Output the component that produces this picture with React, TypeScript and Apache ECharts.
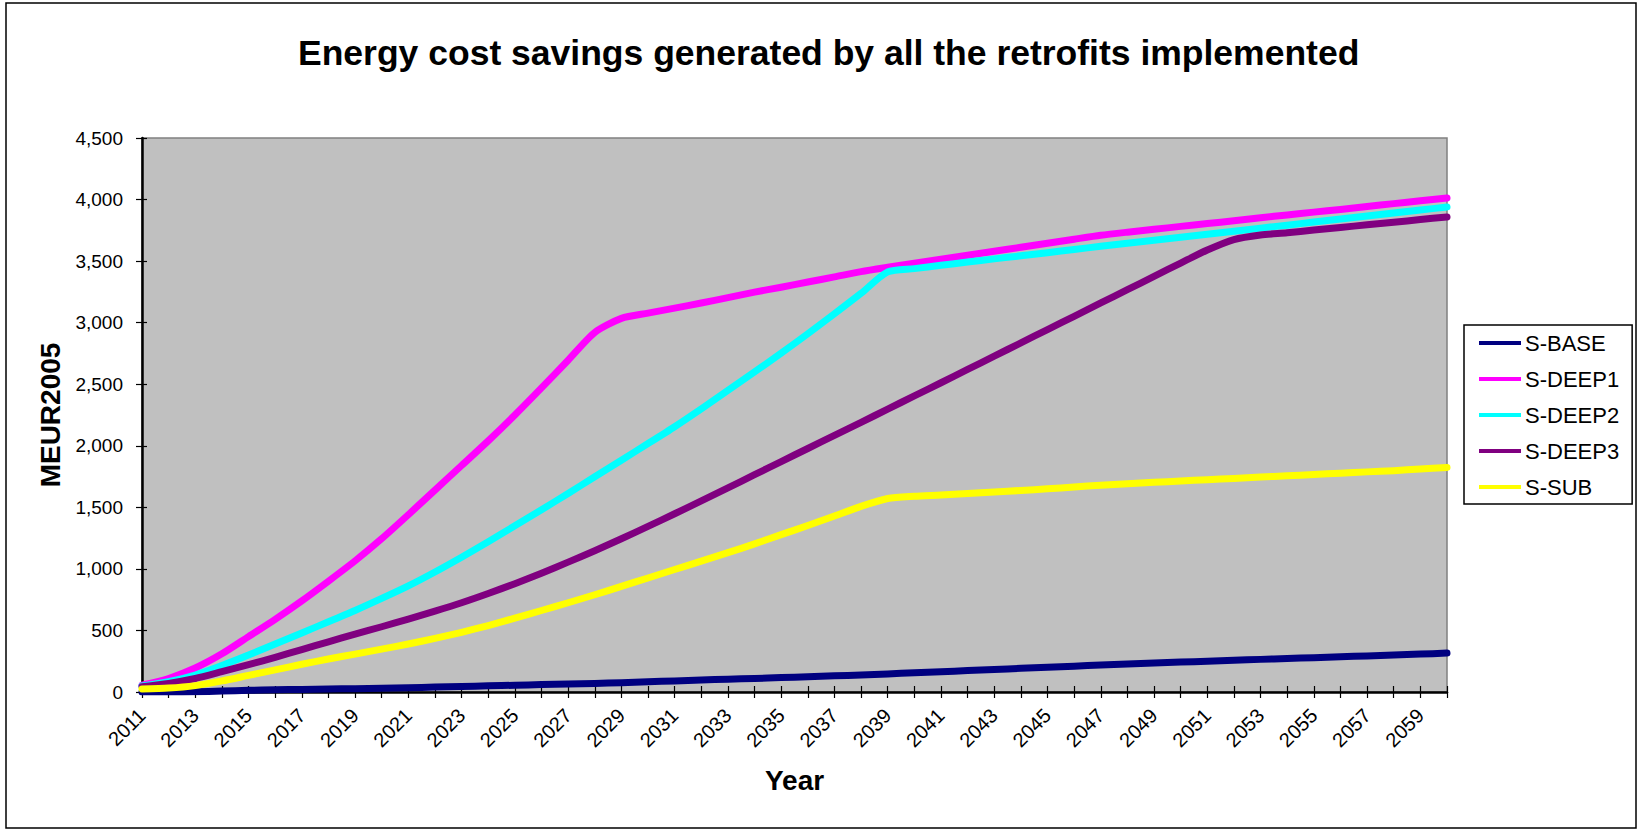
import React, { useEffect, useRef } from "react";
import * as echarts from "echarts";

const years = [
  "2011", "2012", "2013", "2014", "2015", "2016", "2017", "2018", "2019", "2020",
  "2021", "2022", "2023", "2024", "2025", "2026", "2027", "2028", "2029", "2030",
  "2031", "2032", "2033", "2034", "2035", "2036", "2037", "2038", "2039", "2040",
  "2041", "2042", "2043", "2044", "2045", "2046", "2047", "2048", "2049", "2050",
  "2051", "2052", "2053", "2054", "2055", "2056", "2057", "2058", "2059", "2060",
];

const seriesNames = ["S-BASE", "S-DEEP1", "S-DEEP2", "S-DEEP3", "S-SUB"];
const seriesColors = ["#000080", "#FF00FF", "#00FFFF", "#800080", "#FFFF00"];

const sBase = [
  0, 0, 2, 8, 14, 18, 21, 24, 27, 30,
  35, 40, 45, 50, 55, 60, 65, 70, 76, 83,
  90, 97, 104, 110, 117, 124, 131, 138, 147, 156,
  165, 174, 183, 192, 201, 210, 219, 227, 235, 243,
  250, 258, 265, 272, 279, 286, 293, 300, 308, 316,
];

const sDeep1 = [
  55, 110, 195, 310, 450, 590, 740, 900, 1065, 1245,
  1440, 1640, 1840, 2040, 2250, 2470, 2695, 2920, 3035, 3078,
  3118, 3160, 3203, 3248, 3288, 3330, 3372, 3415, 3450, 3483,
  3515, 3548, 3580, 3612, 3645, 3678, 3710, 3735, 3758, 3782,
  3805, 3828, 3852, 3875, 3898, 3920, 3944, 3967, 3990, 4013,
];

const sDeep2 = [
  49, 84, 138, 215, 300, 390, 480, 570, 662, 760,
  862, 975, 1095, 1220, 1350, 1480, 1613, 1748, 1883, 2018,
  2155, 2300, 2450, 2600, 2752, 2910, 3072, 3238, 3412, 3439,
  3466, 3492, 3518, 3543, 3568, 3595, 3620, 3645, 3670, 3694,
  3718, 3743, 3768, 3792, 3817, 3842, 3866, 3891, 3915, 3940,
];

const sDeep3 = [
  43, 70, 110, 165, 222, 282, 345, 408, 470, 530,
  592, 657, 725, 800, 880, 965, 1055, 1148, 1245, 1345,
  1448, 1552, 1658, 1765, 1872, 1978, 2085, 2190, 2298, 2405,
  2512, 2620, 2728, 2836, 2944, 3052, 3160, 3268, 3376, 3484,
  3590, 3675, 3712, 3730, 3752, 3773, 3795, 3815, 3838, 3859,
];

const sSub = [
  25, 32, 52, 90, 135, 180, 225, 268, 308, 348,
  390, 435, 485, 540, 600, 662, 725, 790, 858, 926,
  995, 1063, 1132, 1203, 1278, 1352, 1430, 1508, 1572, 1590,
  1600, 1612, 1625, 1637, 1650, 1665, 1680, 1692, 1703, 1714,
  1725, 1735, 1746, 1756, 1767, 1777, 1788, 1798, 1811, 1824,
];

const yTicks = { min: 0, max: 4500, interval: 500 };

export default function App() {
  const ref = useRef<HTMLDivElement>(null);

  useEffect(() => {
    if (!ref.current) return;
    const chart = echarts.init(ref.current, null, { renderer: "svg" });
    const font = "'Liberation Sans', Arial, sans-serif";
    const values = [sBase, sDeep1, sDeep2, sDeep3, sSub];
    const tickStyle = { color: "#000", width: 1.2 };

    chart.setOption({
      animation: false,
      backgroundColor: "#ffffff",
      textStyle: { fontFamily: font },
      title: {
        text: "Energy cost savings generated by all the retrofits implemented",
        left: 293,
        top: 30,
        textStyle: { fontFamily: font, fontSize: 35.5, fontWeight: "bold", color: "#000" },
      },
      grid: {
        left: 142,
        right: 195,
        top: 138,
        bottom: 141,
        show: true,
        backgroundColor: "#C0C0C0",
        borderColor: "#808080",
        borderWidth: 1.5,
      },
      legend: {
        orient: "vertical",
        left: 1464,
        top: 325,
        padding: [7, 13, 6, 15],
        backgroundColor: "#ffffff",
        borderColor: "#000",
        borderWidth: 1.5,
        borderRadius: 0,
        icon: "rect",
        itemWidth: 42,
        itemHeight: 4,
        itemGap: 14,
        data: seriesNames,
        textStyle: { fontFamily: font, fontSize: 22, color: "#000", lineHeight: 22, padding: [0, 0, 0, -1] },
      },
      xAxis: [
        {
          type: "category",
          data: years,
          boundaryGap: false,
          name: "Year",
          nameLocation: "middle",
          nameGap: 74,
          nameTextStyle: { fontFamily: font, fontSize: 28, fontWeight: "bold", color: "#000" },
          axisLine: { lineStyle: { color: "#000", width: 2.5 } },
          axisTick: { interval: 0, length: 6, lineStyle: tickStyle },
          axisLabel: { interval: 1, rotate: 45, fontSize: 20, color: "#000", fontFamily: font, margin: 20 },
          splitLine: { show: false },
        },
        {
          type: "category",
          data: years,
          boundaryGap: false,
          position: "bottom",
          axisLine: { show: false },
          axisTick: { inside: true, interval: 0, length: 6, lineStyle: tickStyle },
          axisLabel: { show: false },
          splitLine: { show: false },
        },
      ],
      yAxis: [
        {
          type: "value",
          min: yTicks.min,
          max: yTicks.max,
          interval: yTicks.interval,
          name: "MEUR2005",
          nameLocation: "middle",
          nameGap: 78,
          nameTextStyle: { fontFamily: font, fontSize: 28, fontWeight: "bold", color: "#000" },
          axisLine: { show: true, lineStyle: { color: "#000", width: 2.5 } },
          axisTick: { show: true, length: 6, lineStyle: tickStyle },
          axisLabel: {
            fontSize: 19,
            color: "#000",
            fontFamily: font,
            margin: 19,
            formatter: (v: number) => v.toLocaleString("en-US"),
          },
          splitLine: { show: false },
        },
        {
          type: "value",
          min: yTicks.min,
          max: yTicks.max,
          interval: yTicks.interval,
          position: "left",
          axisLine: { show: false },
          axisTick: { show: true, inside: true, length: 5, lineStyle: tickStyle },
          axisLabel: { show: false },
          splitLine: { show: false },
        },
      ],
      series: seriesNames.map((name, i) => ({
        name,
        type: "line",
        data: values[i],
        xAxisIndex: 0,
        yAxisIndex: 0,
        symbol: "none",
        smooth: 0.25,
        color: seriesColors[i],
        lineStyle: { width: 7, color: seriesColors[i], cap: "round", join: "round" },
        z: 2 + i,
      })),
      graphic: [
        {
          type: "rect",
          silent: true,
          z: 100,
          shape: { x: 6, y: 3, width: 1630, height: 825 },
          style: { fill: "none", stroke: "#000", lineWidth: 1.5 },
        },
      ],
    });

    return () => chart.dispose();
  }, []);

  return (
    <div
      ref={ref}
      style={{ position: "fixed", left: 0, top: 0, width: 1642, height: 833 }}
    />
  );
}
